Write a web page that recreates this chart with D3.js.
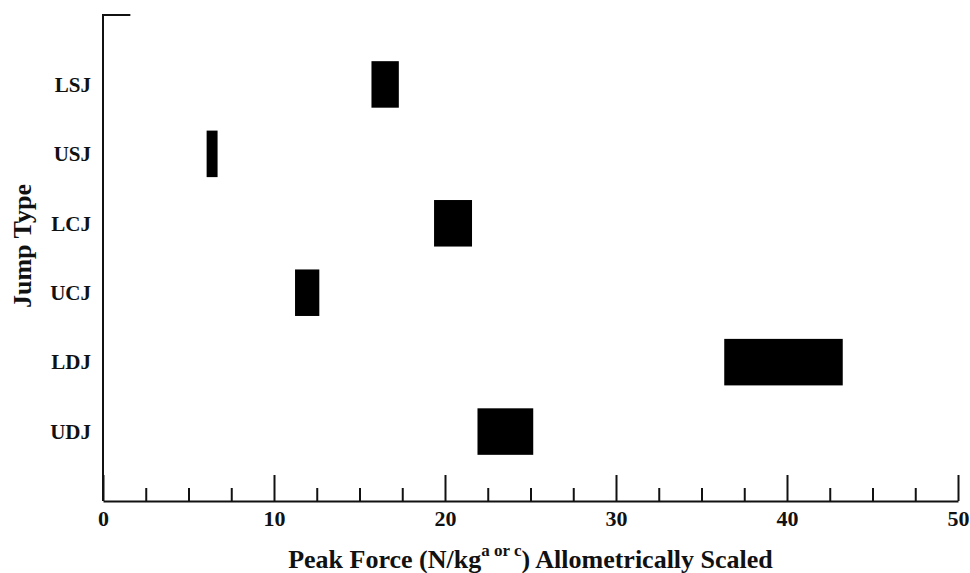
<!DOCTYPE html>
<html>
<head>
<meta charset="utf-8">
<script src="https://cdn.jsdelivr.net/npm/d3@7"></script>
<style>
  html, body { margin: 0; padding: 0; background: #fff; }
  svg { display: block; }
</style>
</head>
<body>
<svg id="chart" width="970" height="573"></svg>
<script>
// Jump types, top to bottom
const jumpTypes = ["LSJ", "USJ", "LCJ", "UCJ", "LDJ", "UDJ"];
// Peak force range per jump type (N/kg^a or c, allometrically scaled)
const forceLow  = [15.7, 6.06, 19.36, 11.23, 36.33, 21.9];
const forceHigh = [17.3, 6.70, 21.58, 12.65, 43.26, 25.16];
// Axis ticks
const majorTicks = [0, 10, 20, 30, 40, 50];
const minorTicks = d3.range(0, 50.01, 2.5).filter(v => v % 10 !== 0);

const svg = d3.select("#chart");
const plotLeft = 103, plotRight = 958, plotTop = 15, plotBottom = 501;

const x = d3.scaleLinear().domain([0, 50]).range([plotLeft, plotRight]);
const y = d3.scalePoint().domain(jumpTypes).range([plotTop, plotBottom]).padding(1);
const barH = y.step() * 0.67;

const ink = "#111";
const serif = "'Liberation Serif', 'Times New Roman', serif";

// Bars
svg.append("g").selectAll("rect")
  .data(jumpTypes)
  .join("rect")
  .attr("x", (d, i) => x(forceLow[i]))
  .attr("width", (d, i) => x(forceHigh[i]) - x(forceLow[i]))
  .attr("y", d => y(d) - barH / 2)
  .attr("height", barH)
  .attr("fill", "#000");

// X axis with long major and short minor ticks
const xAxis = d3.axisBottom(x).tickValues(majorTicks).tickFormat(d3.format("d"))
  .tickSizeInner(-26).tickSizeOuter(0).tickPadding(9);
const gx = svg.append("g").attr("transform", `translate(0,${plotBottom})`).call(xAxis);
gx.select(".domain").attr("stroke", ink).attr("stroke-width", 2);
gx.selectAll(".tick line").attr("stroke", ink).attr("stroke-width", 2);
gx.selectAll(".tick text").attr("fill", ink)
  .style("font-family", serif).style("font-size", "22px").style("font-weight", "bold");

const xMinor = d3.axisBottom(x).tickValues(minorTicks).tickFormat("")
  .tickSizeInner(-13).tickSizeOuter(0);
const gxm = svg.append("g").attr("transform", `translate(0,${plotBottom})`).call(xMinor);
gxm.select(".domain").remove();
gxm.selectAll(".tick line").attr("stroke", ink).attr("stroke-width", 2);

// Y axis with category labels
const yAxis = d3.axisLeft(y).tickSize(0).tickPadding(12);
const gy = svg.append("g").attr("transform", `translate(${plotLeft},0)`).call(yAxis);
gy.select(".domain").remove();
gy.selectAll(".tick text").attr("fill", ink)
  .style("font-family", serif).style("font-size", "21px").style("font-weight", "bold");

// Left axis line with short top cap
svg.append("path")
  .attr("d", d3.line()([[x(1.6), plotTop], [plotLeft, plotTop], [plotLeft, plotBottom]]))
  .attr("fill", "none").attr("stroke", ink).attr("stroke-width", 2);

// Axis titles
svg.append("text")
  .attr("transform", `translate(31,246) rotate(-90)`)
  .attr("text-anchor", "middle")
  .attr("fill", ink)
  .style("font-family", serif).style("font-size", "26px").style("font-weight", "bold")
  .text("Jump Type");

const xt = svg.append("text")
  .attr("x", (plotLeft + plotRight) / 2)
  .attr("y", 568)
  .attr("text-anchor", "middle")
  .attr("fill", ink)
  .style("font-family", serif).style("font-size", "26px").style("font-weight", "bold");
xt.append("tspan").text("Peak Force (N/kg");
xt.append("tspan").attr("dy", -12).style("font-size", "17px").text("a or c");
xt.append("tspan").attr("dy", 12).text(") Allometrically Scaled");
</script>
</body>
</html>
